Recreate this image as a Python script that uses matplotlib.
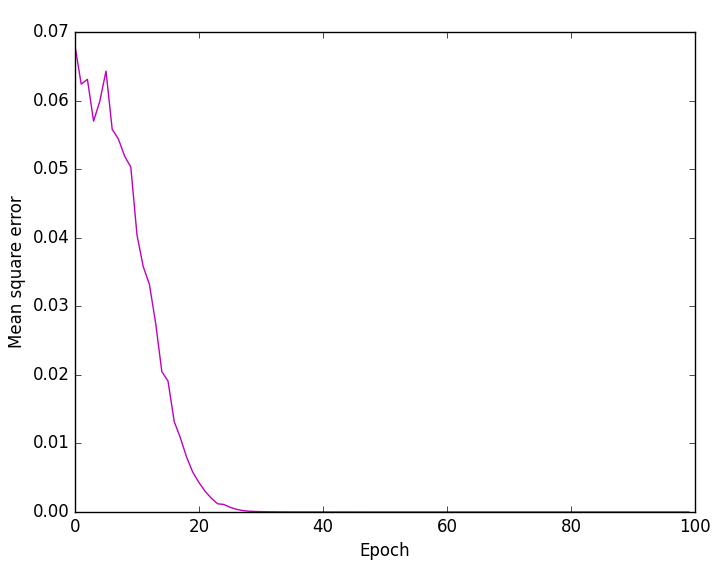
import matplotlib
matplotlib.use("Agg")
import matplotlib.pyplot as plt

plt.style.use("classic")

mse = [
    0.0680, 0.0624, 0.0631, 0.0570, 0.0599, 0.0643, 0.0558, 0.0544, 0.0519, 0.0503,
    0.0404, 0.0358, 0.0332, 0.0276, 0.0205, 0.0191, 0.0132, 0.0108, 0.0080, 0.0058,
    0.0043, 0.0030, 0.0020, 0.0012, 0.0011, 0.0007, 0.0004, 0.00022, 0.00012, 0.00008,
    0.00005, 0.00004, 0.00003, 0.00002, 0.00002, 0.00001, 0.00001, 0.00001, 0.00001, 0.00001,
    0.000008, 0.000007, 0.000006, 0.000005, 0.000005, 0.000004, 0.000004, 0.000003, 0.000003, 0.000003,
    0.000002, 0.000002, 0.000002, 0.000002, 0.000002, 0.000001, 0.000001, 0.000001, 0.000001, 0.000001,
    0.000001, 0.000001, 0.000001, 0.000001, 0.000001, 0.000001, 0.000001, 0.000001, 0.000001, 0.000001,
    0.0, 0.0, 0.0, 0.0, 0.0, 0.0, 0.0, 0.0, 0.0, 0.0,
    0.0, 0.0, 0.0, 0.0, 0.0, 0.0, 0.0, 0.0, 0.0, 0.0,
    0.0, 0.0, 0.0, 0.0, 0.0, 0.0, 0.0, 0.0, 0.0, 0.0,
]
epochs = list(range(len(mse)))

fig = plt.figure(figsize=(7.19, 5.70), dpi=100)
ax = fig.add_axes([75 / 719, 1 - 512 / 570, 620 / 719, 480 / 570])
ax.plot(epochs, mse, color="m", linewidth=1.0)
ax.set_xlim(0, 100)
ax.set_ylim(0, 0.07)
ax.set_xlabel("Epoch")
ax.set_ylabel("Mean square error")
fig.savefig("out.png", dpi=100)
